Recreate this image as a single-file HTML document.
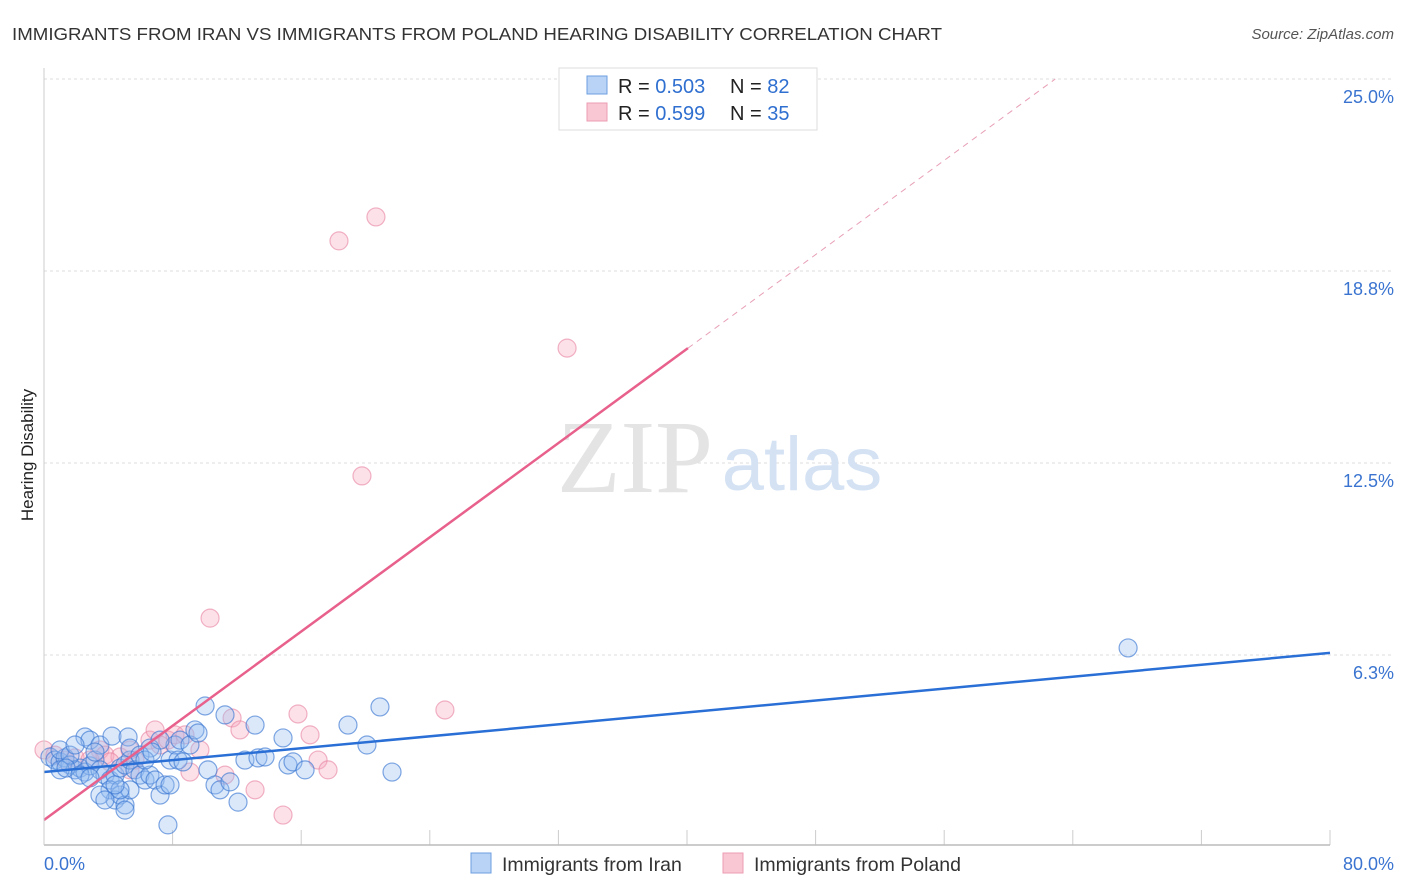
<!DOCTYPE html>
<html><head><meta charset="utf-8"><style>
body{margin:0;background:#fff;font-family:"Liberation Sans",sans-serif}
svg{display:block}
</style></head><body>
<svg id="chart" width="1406" height="892">
<text x="12" y="40" font-size="17.5" fill="#333" textLength="930" lengthAdjust="spacingAndGlyphs">IMMIGRANTS FROM IRAN VS IMMIGRANTS FROM POLAND HEARING DISABILITY CORRELATION CHART</text>
<text x="1394" y="39" font-size="15" fill="#555" font-style="italic" text-anchor="end">Source: ZipAtlas.com</text>
<text x="33" y="455" font-size="17" fill="#222" text-anchor="middle" transform="rotate(-90 33 455)">Hearing Disability</text>
<g id="grid"></g>
<g><text x="635" y="492" font-size="104" fill="#e4e4e4" font-family="Liberation Serif,serif" text-anchor="middle">ZIP</text><text x="802" y="490" font-size="76" fill="#d4e2f4" text-anchor="middle">atlas</text></g>
<g id="marks"></g>
<g id="lines"></g>
<line x1="44" y1="845" x2="1330" y2="845" stroke="#bbb" stroke-width="1.5"/>
<line x1="44" y1="68" x2="44" y2="845" stroke="#ccc" stroke-width="1"/>
<text x="44" y="870" font-size="18" fill="#3a74d0">0.0%</text>
<text x="1394" y="870" font-size="18" fill="#3a74d0" text-anchor="end">80.0%</text>
<g>
<rect x="559" y="68" width="258" height="62" fill="#fff" stroke="#ddd"/>
<rect x="587" y="76" width="20" height="18" fill="#b8d3f5" stroke="#6d9fe0"/>
<rect x="587" y="103" width="20" height="18" fill="#f9c6d4" stroke="#ec9db4"/>
<text x="618" y="93" font-size="20" fill="#222">R = <tspan fill="#2f6fd0">0.503</tspan></text>
<text x="730" y="93" font-size="20" fill="#222">N = <tspan fill="#2f6fd0">82</tspan></text>
<text x="618" y="120" font-size="20" fill="#222">R = <tspan fill="#2f6fd0">0.599</tspan></text>
<text x="730" y="120" font-size="20" fill="#222">N = <tspan fill="#2f6fd0">35</tspan></text>
</g>
<g>
<rect x="471" y="853" width="20" height="20" fill="#b8d3f5" stroke="#6d9fe0"/>
<text x="502" y="871" font-size="19.5" fill="#333">Immigrants from Iran</text>
<rect x="723" y="853" width="20" height="20" fill="#f9c6d4" stroke="#ec9db4"/>
<text x="754" y="871" font-size="19.5" fill="#333">Immigrants from Poland</text>
</g>
</svg>
<script>
const yTicks=[6.25,12.5,18.75,25];
const yTickLabels=["6.3%","12.5%","18.8%","25.0%"];
const iranX=[0.37,0.68,1.00,1.31,1.62,1.93,2.24,2.55,2.86,3.17,3.48,3.79,4.11,4.42,4.73,5.04,5.35,5.66,5.97,6.28,6.59,6.91,7.22,7.53,7.84,8.15,8.46,2.55,2.86,3.48,4.11,4.42,4.73,5.04,5.35,3.48,3.79,4.23,5.23,5.35,6.59,7.22,7.71,7.84,8.34,8.65,9.08,9.39,9.58,10.02,10.20,10.64,10.95,11.26,11.57,12.07,12.50,13.13,13.31,13.75,14.87,15.18,15.49,16.24,18.91,20.09,20.90,21.65,67.44,1.00,1.62,1.93,3.17,5.97,6.28,6.72,1.00,1.37,2.24,2.86,4.73,5.04,4.42];
const iranY=[2.93,2.83,2.77,2.90,2.67,2.51,2.57,2.44,2.64,2.83,2.51,2.34,2.18,2.34,2.57,2.67,2.83,2.51,2.34,2.18,2.34,2.18,1.69,2.02,2.83,3.32,3.48,3.58,3.48,3.32,1.86,1.53,1.69,1.37,1.86,1.69,1.53,3.61,3.58,3.22,3.22,3.48,0.72,2.02,2.83,2.77,3.32,3.81,3.71,4.59,2.51,2.02,1.86,4.30,2.12,1.46,2.83,3.97,2.90,2.93,3.55,2.67,2.77,2.51,3.97,3.32,4.56,2.44,6.48,3.16,2.99,3.32,3.09,2.99,2.83,3.09,2.51,2.57,2.34,2.25,1.86,1.20,2.02];
const polX=[0,0.68,1.31,1.93,3.48,3.79,4.73,5.35,5.66,6.59,6.91,7.22,7.71,8.15,8.77,9.08,9.70,10.33,11.26,11.70,12.19,13.13,14.87,15.80,16.55,17.05,17.67,18.35,19.78,20.65,24.94,32.54,5.35,2.86,4.11];
const polY=[3.16,2.99,2.83,2.90,3.16,2.99,2.93,3.16,2.83,3.48,3.81,3.32,3.48,3.65,3.65,2.44,3.16,7.45,2.34,4.20,3.81,1.86,1.04,4.33,3.65,2.83,2.51,19.73,12.08,20.51,4.46,16.24,2.51,2.83,2.77];
const iranLine=[2.44,6.32];
const polLine=[0.88,0.3834];
const sx=v=>44+v/80*1286;
const sy=v=>847-v/6.25*192;
const NS="http://www.w3.org/2000/svg";
function mk(t,a,p){const e=document.createElementNS(NS,t);for(const k in a)e.setAttribute(k,a[k]);p.appendChild(e);return e;}
const grid=document.getElementById('grid');
yTicks.forEach((t,i)=>{
  const l=mk('line',{x1:44,x2:1394,y1:sy(t),y2:sy(t),stroke:'#ddd','stroke-dasharray':'3,3'},grid);
  
  
  const tx=mk('text',{x:1394,y:sy(t)+24,'font-size':18,fill:'#3a74d0','text-anchor':'end'},grid);
  tx.textContent=yTickLabels[i];
  
  
});
for(let i=1;i<=10;i++){
  const l=mk('line',{x1:sx(i*8),x2:sx(i*8),y1:830,y2:845,stroke:'#ccc'},grid);
  
  
}
const marks=document.getElementById('marks');
polX.forEach((x,i)=>{
  const c=mk('circle',{cx:sx(x),cy:sy(polY[i]),r:9,fill:'rgba(246,170,192,0.35)',stroke:'rgba(232,130,160,0.6)','stroke-width':1.2},marks);
  
  
});
iranX.forEach((x,i)=>{
  const c=mk('circle',{cx:sx(x),cy:sy(iranY[i]),r:9,fill:'rgba(150,190,240,0.35)',stroke:'rgba(60,120,210,0.65)','stroke-width':1.2},marks);
  
  
});
const lines=document.getElementById('lines');
const bl=mk('line',{x1:sx(0),y1:sy(iranLine[0]),x2:sx(80),y2:sy(iranLine[1]),stroke:'#2a6fd6','stroke-width':2.5},lines);


const pe=40.06, pend=(25-polLine[0])/polLine[1];
const pl=mk('line',{x1:sx(0),y1:sy(polLine[0]),x2:sx(pe),y2:sy(polLine[0]+polLine[1]*pe),stroke:'#e8608c','stroke-width':2.5},lines);


const pd=mk('line',{x1:sx(pe),y1:sy(polLine[0]+polLine[1]*pe),x2:sx(pend),y2:sy(25),stroke:'#e8a0b6','stroke-width':1,'stroke-dasharray':'6,5'},lines);


</script>
</body></html>
